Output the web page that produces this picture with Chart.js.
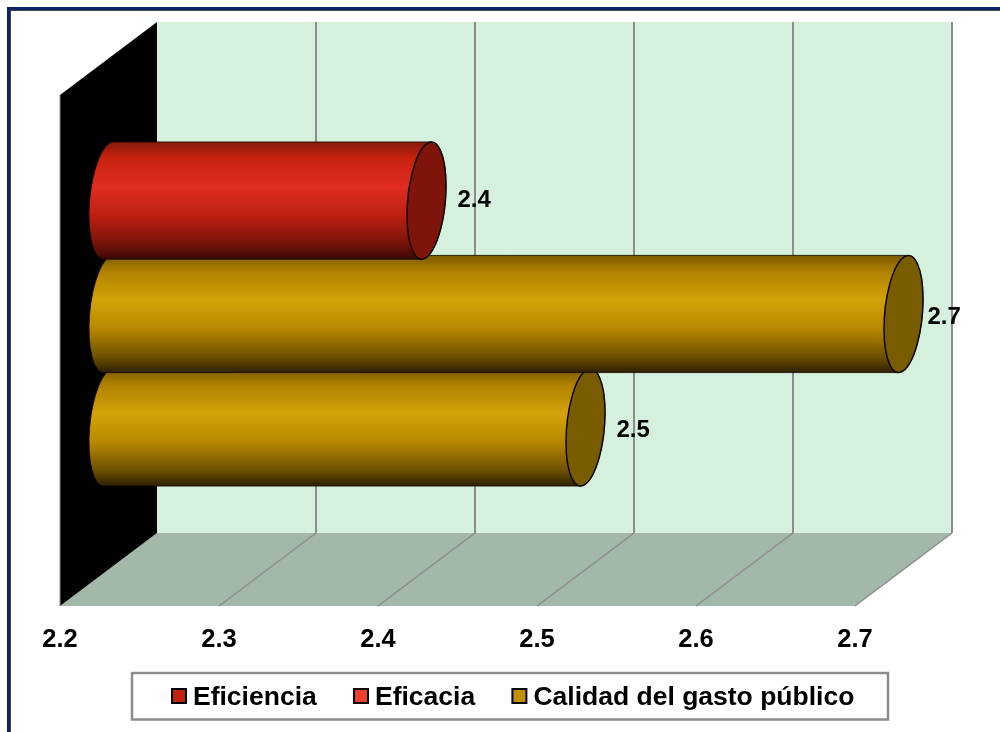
<!DOCTYPE html>
<html>
<head>
<meta charset="utf-8">
<title>Chart</title>
<script src="https://cdn.jsdelivr.net/npm/chart.js@4"></script>
<style>
  html, body { margin: 0; background: #fff; overflow: hidden; }
  #chart { position: absolute; left: 0; top: 0; filter: blur(0.4px); }
  #frame { position: absolute; left: 7px; top: 7px; width: 1100px; height: 900px; box-sizing: border-box;
           border: 3px solid #0b2265; pointer-events: none; }
  #frame div { width: 100%; height: 100%; box-sizing: border-box; border: 1px solid #444; }
</style>
</head>
<body>
<canvas id="chart" width="1000" height="732"></canvas>
<div id="frame"><div></div></div>
<script>
const categories = [''];
const seriesNames = ['Eficiencia', 'Eficacia', 'Calidad del gasto público'];
const seriesValues = [2.4, 2.7, 2.5];
const axisTicks = [2.2, 2.3, 2.4, 2.5, 2.6, 2.7];

// look of the cylinders, one per series
const RED = ['#861a0c', '#c8220f', '#e02c20', '#bf2012', '#7a130a', '#3a0804'];
const GOLD = ['#7c5a00', '#b08200', '#d4a20a', '#b88900', '#705200', '#2e2000'];
const barShades = [RED, GOLD, GOLD];
const faceColors = ['#7f140a', '#7a5c00', '#7a5c00'];
const swatchColors = ['#c0200f', '#ef4030', '#bf8f00'];
const FONT = '"Liberation Sans", Arial, sans-serif';

// oblique projection of the box
const DEPTH_X = 97, DEPTH_Y = -73;
const labelNudge = [[31, 0], [24, 3], [31, 3]];

const box3d = {
	id: 'box3d',
	afterLayout(chart) {
		// put the legend where it sits in the original
		const legend = chart.legend;
		legend.left = 134.75;
		legend.right = 1000;
		legend.top = 640;
		legend.bottom = 732;
		legend.adjustHitBoxes();
		// tick labels are clipped to the scale box
		chart.scales.x.bottom = 672;
	},
	beforeDraw(chart) {
		const ctx = chart.ctx, a = chart.chartArea, x = chart.scales.x;
		ctx.save();
		// back wall
		ctx.fillStyle = '#d5f1dd';
		ctx.fillRect(a.left + DEPTH_X, a.top + DEPTH_Y, a.right - a.left, a.bottom - a.top);
		// floor
		ctx.fillStyle = '#a2b8a9';
		poly(ctx, [[a.left, a.bottom], [a.right, a.bottom], [a.right + DEPTH_X, a.bottom + DEPTH_Y], [a.left + DEPTH_X, a.bottom + DEPTH_Y]]);
		ctx.fill();
		// side wall
		ctx.fillStyle = '#000';
		poly(ctx, [[a.left, a.top], [a.left + DEPTH_X, a.top + DEPTH_Y], [a.left + DEPTH_X, a.bottom + DEPTH_Y], [a.left, a.bottom]]);
		ctx.fill();
		ctx.strokeStyle = '#8c8c8c';
		ctx.lineWidth = 1;
		ctx.beginPath();
		ctx.moveTo(a.left, a.top);
		ctx.lineTo(a.left, a.bottom);
		ctx.stroke();
		// grid lines, wall then floor
		axisTicks.forEach((t, i) => {
			if (i === 0) return;
			const px = x.getPixelForValue(t);
			ctx.lineWidth = 2;
			ctx.beginPath();
			ctx.moveTo(px + DEPTH_X, a.top + DEPTH_Y);
			ctx.lineTo(px + DEPTH_X, a.bottom + DEPTH_Y);
			ctx.stroke();
			ctx.lineWidth = 1.5;
			ctx.beginPath();
			ctx.moveTo(px + DEPTH_X, a.bottom + DEPTH_Y);
			ctx.lineTo(px, a.bottom);
			ctx.stroke();
		});
		// legend box
		ctx.fillStyle = '#fff';
		ctx.strokeStyle = '#8c8c8c';
		ctx.lineWidth = 2.5;
		ctx.fillRect(132, 673, 756, 46.5);
		ctx.strokeRect(132, 673, 756, 46.5);
		ctx.restore();
	},
	beforeDatasetDraw(chart, args) {
		const bar = args.meta.data[0];
		drawCylinder(chart, args.index, bar);
		return false;
	},
	afterDraw(chart) {
		const ctx = chart.ctx;
		ctx.save();
		// value labels
		ctx.fillStyle = '#000';
		ctx.font = 'bold 24px ' + FONT;
		ctx.textBaseline = 'middle';
		seriesValues.forEach((v, i) => {
			const bar = chart.getDatasetMeta(i).data[0];
			ctx.fillText(v.toFixed(1), bar.x + DEPTH_X / 2 + labelNudge[i][0], bar.y + DEPTH_Y / 2 + labelNudge[i][1]);
		});
		// legend swatches
		chart.legend.legendHitBoxes.forEach((h, i) => {
			ctx.fillStyle = swatchColors[i];
			ctx.strokeStyle = '#000';
			ctx.lineWidth = 2;
			ctx.fillRect(h.left - 6.75, 689, 14, 14);
			ctx.strokeRect(h.left - 6.75, 689, 14, 14);
		});
		ctx.restore();
	}
};

function poly(ctx, pts) {
	ctx.beginPath();
	pts.forEach((p, i) => i ? ctx.lineTo(p[0], p[1]) : ctx.moveTo(p[0], p[1]));
	ctx.closePath();
}

function drawCylinder(chart, i, bar) {
	const ctx = chart.ctx;
	const cy = bar.y + DEPTH_Y / 2;
	const x0 = bar.base + DEPTH_X / 2, x1 = bar.x + DEPTH_X / 2;
	const r = bar.height / 2;
	// the round end is a circle seen in the same oblique projection
	const dx = 19.5, dy = dx * DEPTH_Y / DEPTH_X;
	const ext = Math.hypot(r, dy);
	const lean = dx * dy / ext;
	const shades = barShades[i];

	const grad = ctx.createLinearGradient(0, cy - ext, 0, cy + ext);
	[0, 0.14, 0.38, 0.62, 0.86, 1].forEach((s, k) => grad.addColorStop(s, shades[k]));

	const endPath = (cx, from, to) => {
		ctx.save();
		ctx.transform(dx, dy, 0, r, cx, cy);
		ctx.arc(0, 0, 1, from, to, false);
		ctx.restore();
	};

	ctx.save();
	// body: left half of the far end, flat edges, right half of the near end
	ctx.beginPath();
	ctx.moveTo(x0 - lean, cy - ext);
	ctx.lineTo(x1 - lean, cy - ext);
	endPath(x1, tangent(dy, r, -1), tangent(dy, r, 1));
	ctx.lineTo(x0 + lean, cy + ext);
	endPath(x0, tangent(dy, r, 1), tangent(dy, r, -1));
	ctx.closePath();
	ctx.fillStyle = grad;
	ctx.fill();
	ctx.strokeStyle = 'rgba(20,10,0,0.85)';
	ctx.lineWidth = 1;
	ctx.stroke();
	// end face
	ctx.beginPath();
	endPath(x1, 0, Math.PI * 2);
	ctx.closePath();
	ctx.fillStyle = faceColors[i];
	ctx.fill();
	ctx.strokeStyle = '#0a0500';
	ctx.lineWidth = 1.5;
	ctx.stroke();
	ctx.restore();
}

// parameter on the unit circle where the projected end reaches its top (-1) or bottom (1)
function tangent(dy, r, side) {
	return Math.atan2(side * r, side * dy);
}

new Chart(document.getElementById('chart').getContext('2d'), {
	type: 'bar',
	data: {
		labels: categories,
		datasets: seriesNames.map((name, i) => ({
			label: name,
			data: [seriesValues[i]],
			base: axisTicks[0],
			backgroundColor: swatchColors[i]
		}))
	},
	options: {
		indexAxis: 'y',
		responsive: false,
		animation: false,
		events: [],
		layout: { padding: { left: 60, right: 145, top: 95, bottom: 0 } },
		categoryPercentage: 0.666,
		barPercentage: 1,
		scales: {
			y: { display: false },
			x: {
				min: 2.2,
				max: 2.7,
				grid: { display: false },
				border: { display: false },
				afterFit(scale) { scale.height = 126 - scale.chart.legend.height; },
				afterBuildTicks(scale) { scale.ticks = axisTicks.map(v => ({ value: v })); },
				ticks: {
					color: '#000',
					padding: 11,
					maxRotation: 0,
					font: { family: FONT, weight: 'bold', size: 25.5 },
					callback: v => v.toFixed(1)
				}
			}
		},
		plugins: {
			tooltip: { enabled: false },
			legend: {
				position: 'bottom',
				align: 'start',
				labels: {
					boxWidth: 1,
					padding: 44,
					color: '#000',
					font: { family: FONT, weight: 'bold', size: 26.5 },
					generateLabels: () => seriesNames.map((name, i) => ({
						text: name,
						fillStyle: 'rgba(0,0,0,0)',
						strokeStyle: 'rgba(0,0,0,0)',
						lineWidth: 0,
						datasetIndex: i
					}))
				}
			}
		}
	},
	plugins: [box3d]
});
</script>
</body>
</html>
